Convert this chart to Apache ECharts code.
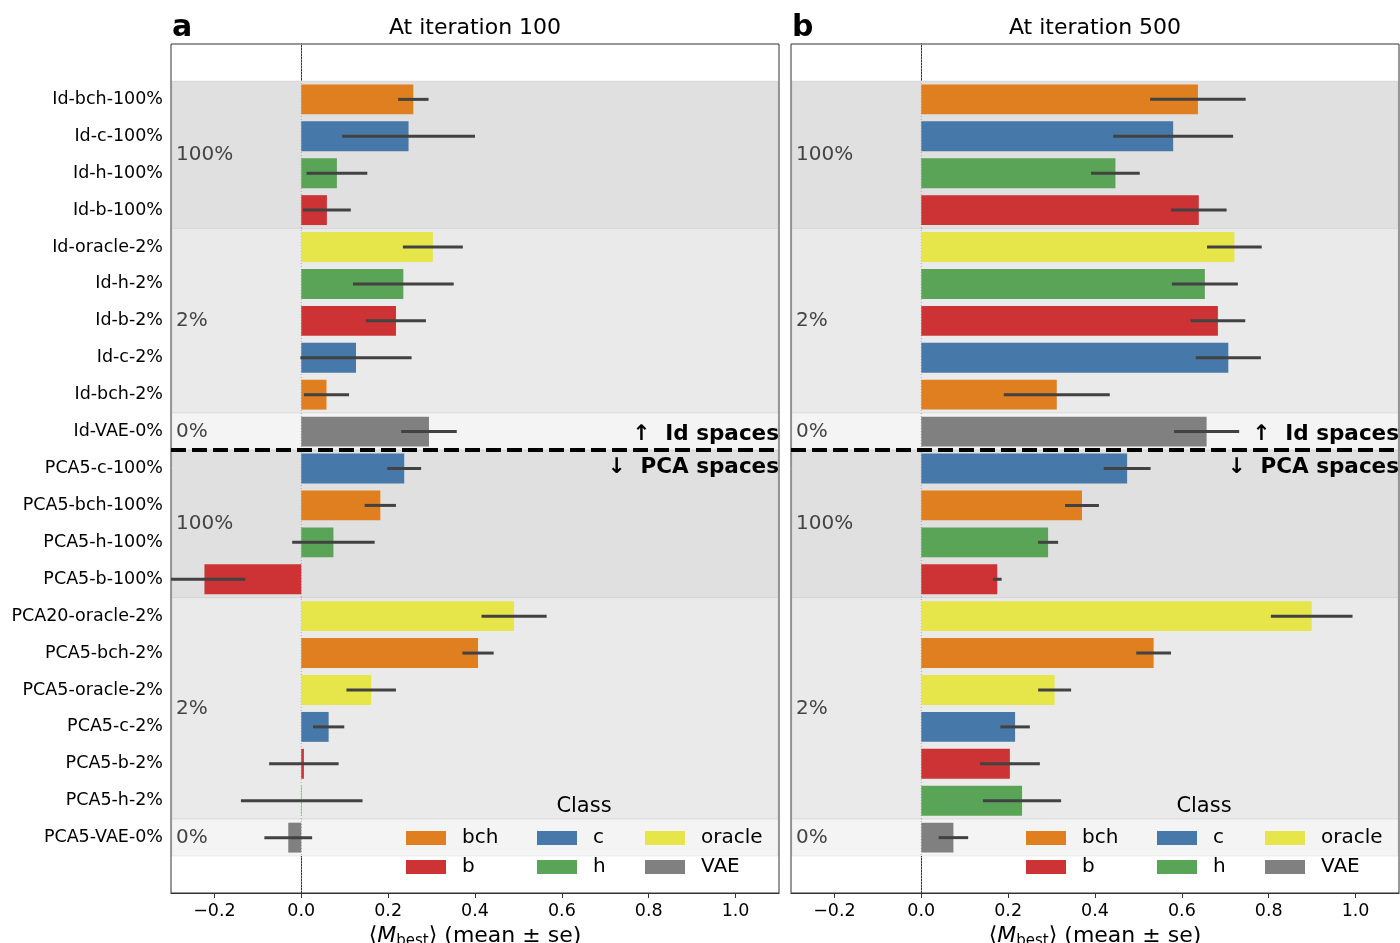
<!DOCTYPE html>
<html>
<head>
<meta charset="utf-8">
<script src="https://cdn.jsdelivr.net/npm/echarts@6/dist/echarts.min.js"></script>
<style>html,body{margin:0;padding:0;background:#fff}#c{width:1400px;height:943px}</style>
</head>
<body>
<div id="c"></div>
<script>
// ---- data ----
const categories = ['Id-bch-100%','Id-c-100%','Id-h-100%','Id-b-100%','Id-oracle-2%','Id-h-2%','Id-b-2%','Id-c-2%','Id-bch-2%','Id-VAE-0%',
  'PCA5-c-100%','PCA5-bch-100%','PCA5-h-100%','PCA5-b-100%','PCA20-oracle-2%','PCA5-bch-2%','PCA5-oracle-2%','PCA5-c-2%','PCA5-b-2%','PCA5-h-2%','PCA5-VAE-0%'];
const rowClass = ['bch','c','h','b','oracle','h','b','c','bch','VAE','c','bch','h','b','oracle','bch','oracle','c','b','h','VAE'];
const mean100 = [0.258,0.247,0.082,0.059,0.303,0.235,0.218,0.126,0.058,0.294,0.237,0.182,0.074,-0.223,0.490,0.407,0.161,0.063,0.006,0.001,-0.030];
const se100   = [0.035,0.153,0.070,0.055,0.069,0.116,0.069,0.128,0.052,0.064,0.039,0.036,0.095,0.094,0.075,0.036,0.057,0.036,0.080,0.140,0.055];
const mean500 = [0.637,0.580,0.447,0.639,0.721,0.653,0.683,0.707,0.312,0.657,0.474,0.370,0.292,0.175,0.899,0.535,0.307,0.216,0.204,0.232,0.074];
const se500   = [0.110,0.138,0.056,0.064,0.063,0.076,0.063,0.075,0.122,0.075,0.054,0.039,0.023,0.010,0.094,0.040,0.038,0.034,0.069,0.090,0.034];
const classNames = ['bch','c','oracle','b','h','VAE'];
const classColors = ['#e07f20','#4679a9','#e6e54a','#cd3335','#5aa457','#808080'];
const bandStart = [0,4,9,10,14,20];
const bandEnd   = [3,8,9,13,19,20];
const bandLabels = ['100%','2%','0%','100%','2%','0%'];
const bandShade = [0,1,2,0,1,2];
const panelTitles = ['At iteration 100','At iteration 500'];
const panelLetters = ['a','b'];
const xTicks = [-0.2,0.0,0.2,0.4,0.6,0.8,1.0];
const spaceLabels = ['\u2191  Id spaces','\u2193  PCA spaces'];

// ---- layout ----
const FONT = 'DejaVu Sans';
const panelLeft = [171, 791];
const PW = 608, PT = 44, PH = 849;
const shadeColors = ['#e0e0e0','#eaeaea','#f4f4f4'];
const yCats = [''].concat(categories).concat(['']);
const panels = [{mean: mean100, se: se100}, {mean: mean500, se: se500}];

const grids = [], xAxes = [], yAxes = [], series = [], legends = [], graphics = [];

function bandRender(params, api) {
  const s = api.value(0) + 1, e = api.value(1) + 1, shade = api.value(2), li = api.value(3);
  const cs = params.coordSys;
  const bw = api.size([0, 1])[1];
  const y0 = api.coord([0, s])[1] - bw / 2;
  const y1 = api.coord([0, e])[1] + bw / 2;
  return {type: 'group', children: [
    {type: 'rect', shape: {x: cs.x + 1, y: y0, width: cs.width - 2, height: y1 - y0},
     style: {fill: shadeColors[shade], stroke: 'rgba(0,0,0,0.06)', lineWidth: 1}},
    {type: 'text', x: cs.x + 5, y: (y0 + y1) / 2,
     style: {text: bandLabels[li], fill: '#444', font: '20px "' + FONT + '"', textAlign: 'left', textVerticalAlign: 'middle'}}
  ]};
}
function zeroRender(params, api) {
  const cs = params.coordSys;
  const x = api.coord([0, 0])[0];
  return {type: 'line', shape: {x1: x, y1: cs.y, x2: x, y2: cs.y + cs.height},
    style: {stroke: '#aaa', lineWidth: 1, lineDash: [1, 2]}};
}
function overlayRender(params, api) {
  const cs = params.coordSys;
  const bw = api.size([0, 1])[1];
  const yl = api.coord([0, 10])[1] + bw / 2;
  const xr = cs.x + cs.width;
  return {type: 'group', children: [
    {type: 'line', shape: {x1: cs.x, y1: yl, x2: xr, y2: yl}, style: {stroke: '#000', lineWidth: 4, lineDash: [15, 6]}},
    {type: 'text', x: xr, y: yl - 16, style: {text: spaceLabels[0], fill: '#000', font: 'bold 21.5px "' + FONT + '"', textAlign: 'right', textVerticalAlign: 'middle'}},
    {type: 'text', x: xr, y: yl + 17, style: {text: spaceLabels[1], fill: '#000', font: 'bold 21.5px "' + FONT + '"', textAlign: 'right', textVerticalAlign: 'middle'}}
  ]};
}
function barRender(params, api) {
  const v = api.value(0), idx = api.value(1), se = api.value(2);
  const cs = params.coordSys;
  const bw = api.size([0, 1])[1];
  const h = bw * 0.81;
  const p0 = api.coord([0, idx]);
  const p1 = api.coord([v, idx]);
  let ea = api.coord([v - se, idx])[0], eb = api.coord([v + se, idx])[0];
  ea = Math.max(ea, cs.x); eb = Math.min(eb, cs.x + cs.width);
  return {type: 'group', children: [
    {type: 'rect', shape: {x: Math.min(p0[0], p1[0]), y: p0[1] - h / 2, width: Math.abs(p1[0] - p0[0]), height: h},
     style: {fill: api.visual('color')}},
    {type: 'line', shape: {x1: ea, y1: p0[1], x2: eb, y2: p0[1]}, style: {stroke: '#424242', lineWidth: 3}}
  ]};
}

for (let p = 0; p < 2; p++) {
  grids.push({left: panelLeft[p], top: PT, width: PW, height: PH, show: true, borderColor: '#333', borderWidth: 1,
    backgroundColor: 'transparent', containLabel: false, outerBoundsMode: 'none'});
  xAxes.push({type: 'value', gridIndex: p, min: -0.3, max: 1.1,
    axisLine: {show: true, lineStyle: {color: '#333'}},
    axisTick: {show: true, length: 5, lineStyle: {color: '#333'}, customValues: xTicks},
    axisLabel: {fontFamily: FONT, fontSize: 17.5, color: '#000', margin: 9, customValues: xTicks,
      formatter: v => (v < 0 ? '\u2212' : '') + Math.abs(v).toFixed(1)},
    splitLine: {show: false},
    name: '{a|\u27E8}{i|M}{s|best}{a|\u27E9 (mean \u00B1 se)}', nameLocation: 'middle', nameGap: 30,
    nameTextStyle: {fontFamily: FONT, fontSize: 22, color: '#000', rich: {
      a: {fontFamily: FONT, fontSize: 22, color: '#000'},
      i: {fontFamily: FONT, fontSize: 22, fontStyle: 'italic', color: '#000'},
      s: {fontFamily: FONT, fontSize: 15, color: '#000', padding: [10, 0, 0, 0]}
    }}
  });
  yAxes.push({type: 'category', gridIndex: p, data: yCats, inverse: true,
    axisLine: {show: true, lineStyle: {color: '#333'}},
    axisTick: {show: true, length: 5, alignWithLabel: true, lineStyle: {color: '#333'}, interval: (i) => i > 0 && i < yCats.length - 1},
    axisLabel: {show: p === 0, fontFamily: FONT, fontSize: 17.5, color: '#000', margin: 8, interval: 0},
    splitLine: {show: false}
  });
  const bandData = bandStart.map((s, i) => [s, bandEnd[i], bandShade[i], i]);
  series.push({type: 'custom', name: 'bands' + p, xAxisIndex: p, yAxisIndex: p, z: 1, silent: true,
    renderItem: bandRender, data: bandData, encode: {x: -1, y: -1}});
  series.push({type: 'custom', name: 'zero' + p, xAxisIndex: p, yAxisIndex: p, z: 2, silent: true,
    renderItem: zeroRender, data: [[0]], encode: {x: -1, y: -1}});
  classNames.forEach((cn, ci) => {
    const d = [];
    rowClass.forEach((rc, r) => { if (rc === cn) d.push([panels[p].mean[r], r + 1, panels[p].se[r]]); });
    series.push({type: 'custom', name: cn, xAxisIndex: p, yAxisIndex: p, z: 3, clip: true,
      itemStyle: {color: classColors[ci]}, renderItem: barRender, data: d, encode: {x: 0, y: 1}});
  });
  series.push({type: 'custom', name: 'overlay' + p, xAxisIndex: p, yAxisIndex: p, z: 4, silent: true,
    renderItem: overlayRender, data: [[0]], encode: {x: -1, y: -1}});

  // titles
  const cx = panelLeft[p] + PW / 2;
  graphics.push({type: 'text', x: cx, y: 28, style: {text: panelTitles[p], fill: '#000', font: '22px "' + FONT + '"', textAlign: 'center', textVerticalAlign: 'middle'}});
  graphics.push({type: 'text', x: panelLeft[p] + 1, y: 28, style: {text: panelLetters[p], fill: '#000', font: 'bold 30px "' + FONT + '"', textAlign: 'left', textVerticalAlign: 'middle'}});
  graphics.push({type: 'text', x: panelLeft[p] + 413, y: 807, z: 10, style: {text: 'Class', fill: '#000', font: '21px "' + FONT + '"', textAlign: 'center', textVerticalAlign: 'middle'}});

  // legend entries (3 columns x 2 rows)
  const colX = [235, 366, 474];
  const rowY = [828, 857];
  classNames.forEach((cn, ci) => {
    const col = ci % 3, row = Math.floor(ci / 3);
    legends.push({data: [{name: cn, icon: 'rect'}], left: panelLeft[p] + colX[col], top: rowY[row], padding: 0,
      itemWidth: 40, itemHeight: 14, selectedMode: false, z: 10,
      textStyle: {fontFamily: FONT, fontSize: 20, color: '#000', padding: [0, 0, 0, 11]}});
  });
}

const chart = echarts.init(document.getElementById('c'), null, {renderer: 'canvas'});
chart.setOption({
  animation: false,
  backgroundColor: '#fff',
  textStyle: {fontFamily: FONT},
  grid: grids, xAxis: xAxes, yAxis: yAxes, series: series, legend: legends, graphic: graphics
});
</script>
</body>
</html>
